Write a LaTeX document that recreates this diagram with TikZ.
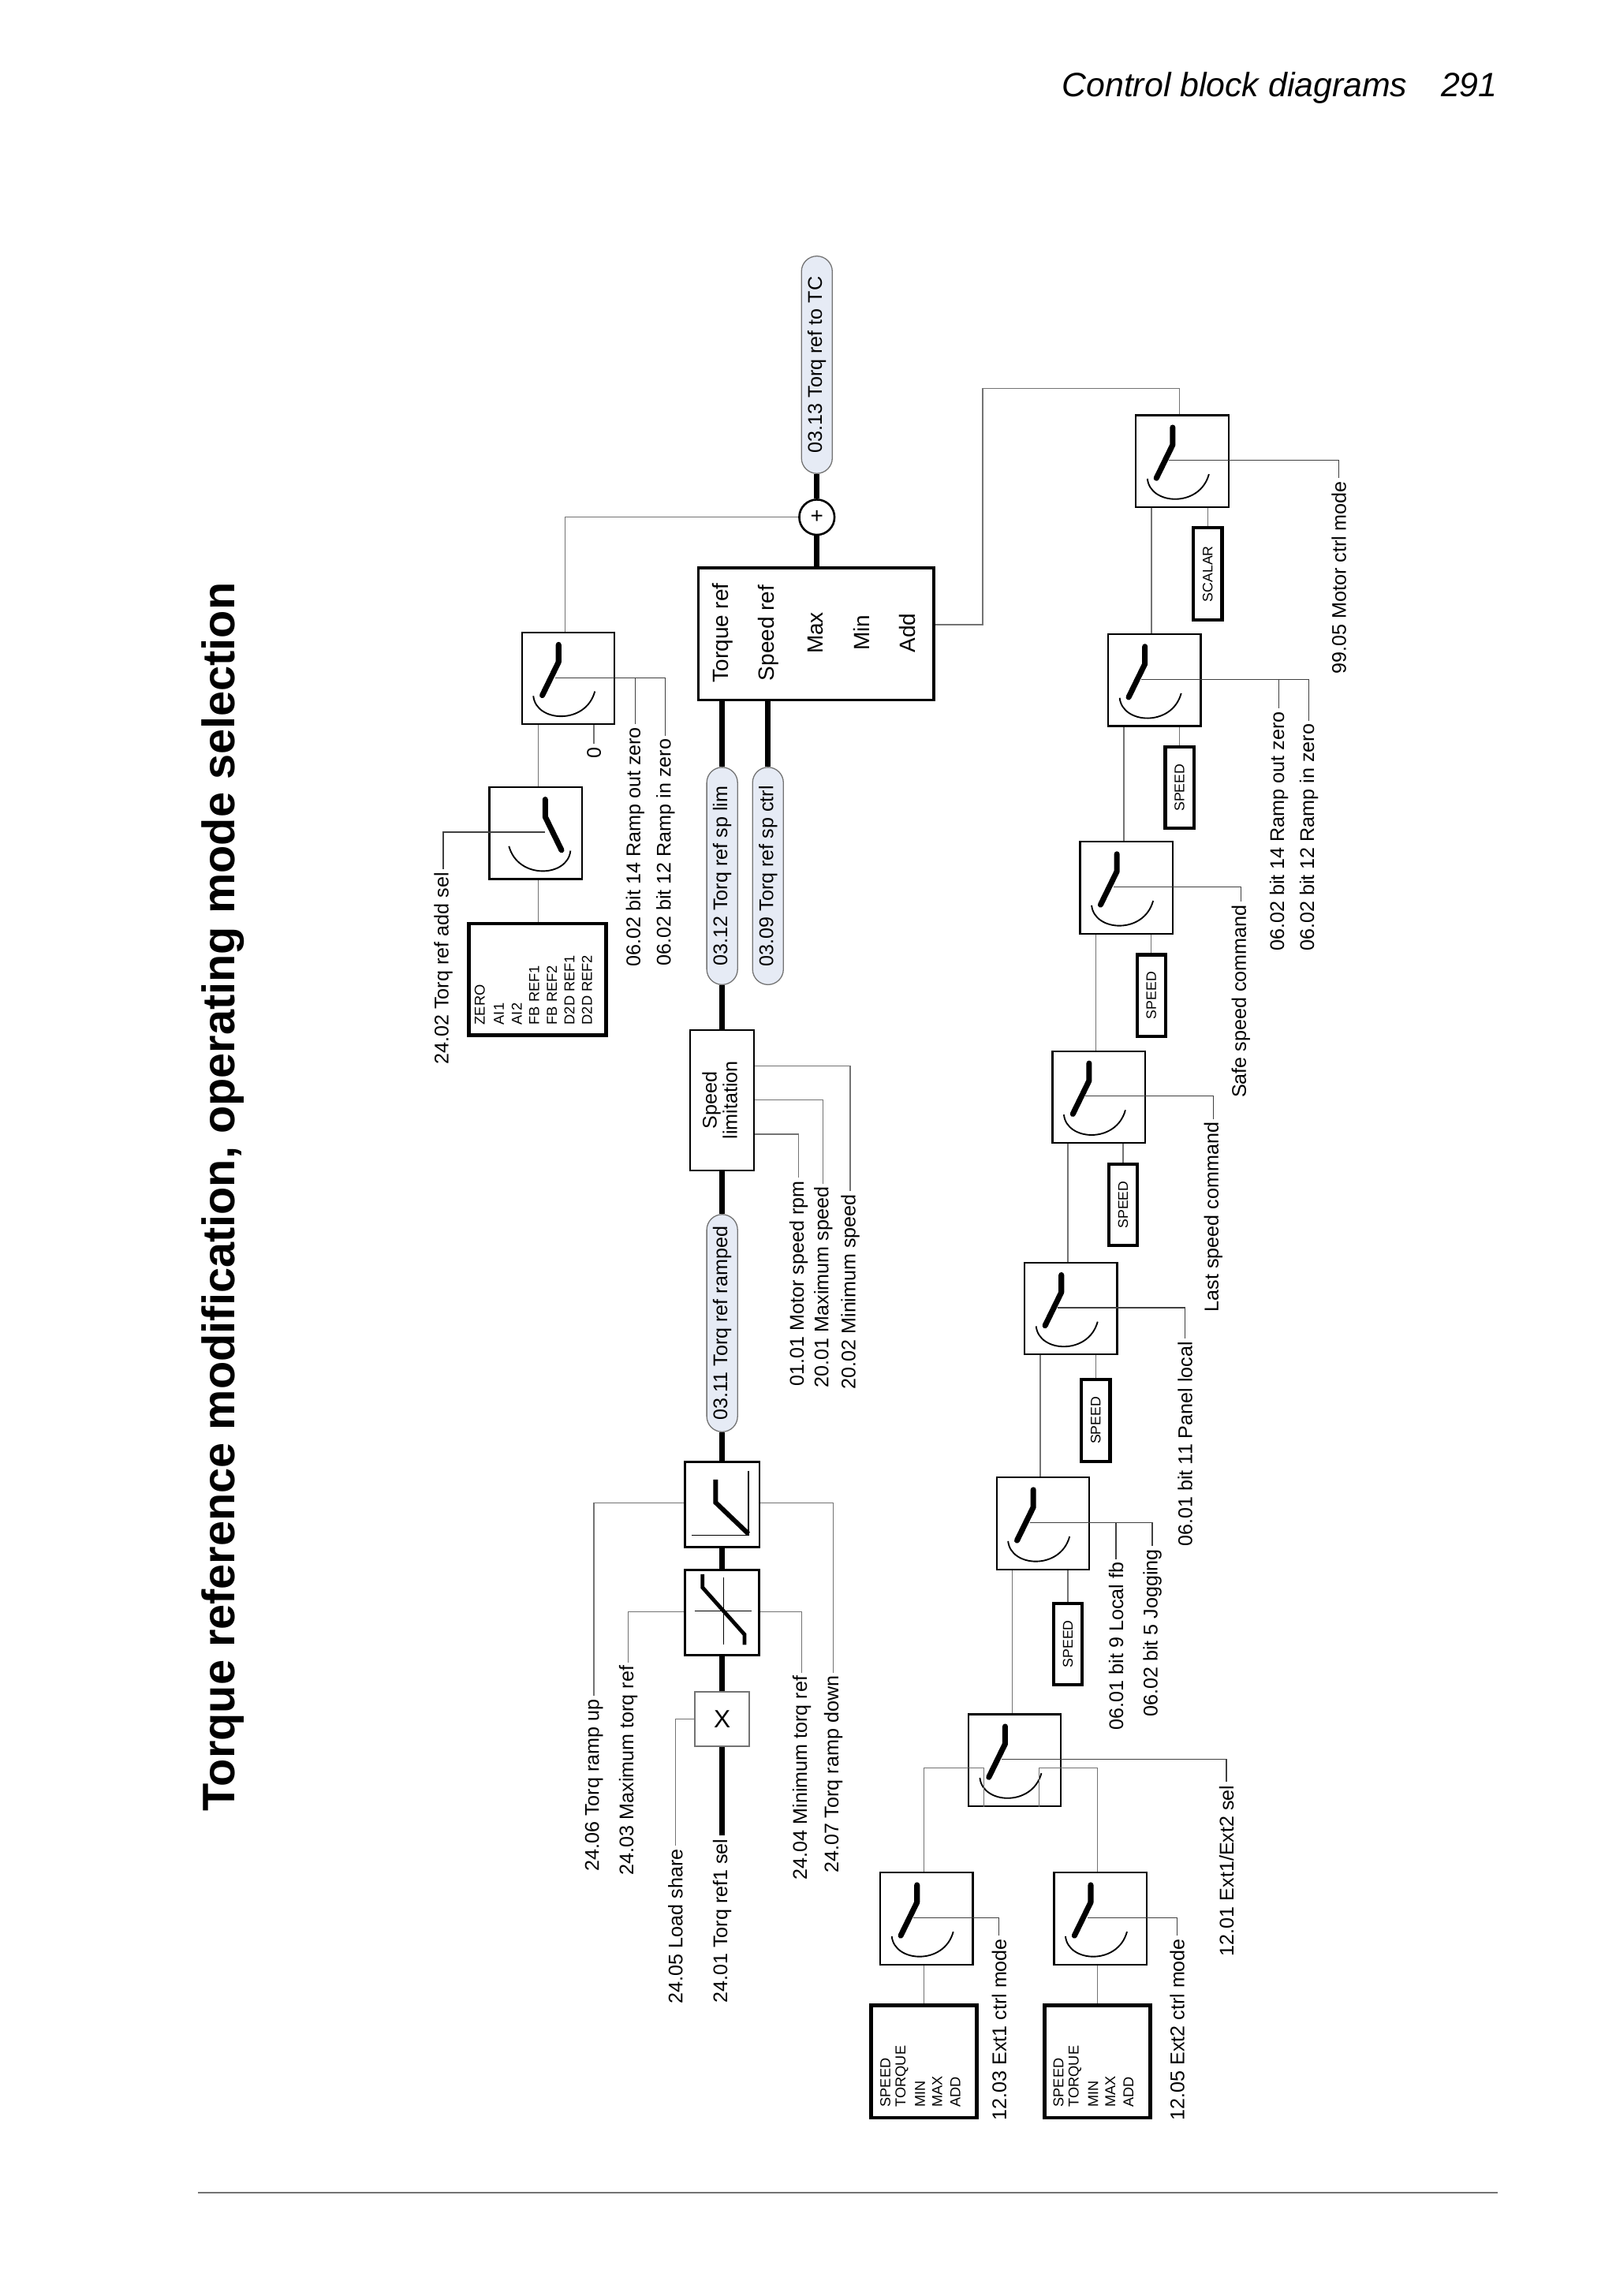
\documentclass[tikz,border=0pt]{standalone}
\usepackage{fontspec}
\usepackage{graphicx}
\setmainfont{Liberation Sans}
\usetikzlibrary{calc}
\definecolor{cgray}{RGB}{115,115,115}
\definecolor{ovfill}{RGB}{230,235,245}
\tikzset{
 swbox/.style={draw,line width=1.2pt,minimum width=63pt,minimum height=62.5pt,inner sep=0},
 lever/.style={line width=3.8pt,line cap=round,line join=round},
 arcl/.style={line width=1pt},
 conn/.style={draw=cgray,line width=0.7pt},
 ctl/.style={draw=black!75,line width=0.7pt},
 sig/.style={line width=3.6pt},
 lbl/.style={font=\fontsize{13.5}{16}\selectfont,rotate=90,anchor=east,inner sep=2pt},
 oval/.style={draw=cgray,line width=0.7pt,fill=ovfill,rounded corners=10.5pt,minimum width=21pt,minimum height=148pt,inner sep=0,font=\fontsize{13.5}{16}\selectfont},
 spbox/.style={draw,line width=2.2pt,minimum width=19.5pt,minimum height=55.5pt,inner sep=0,font=\fontsize{9.5}{11}\selectfont},
 pbox/.style={draw,line width=2.5pt,inner sep=0},
 small/.style={font=\fontsize{9.8}{11}\selectfont,rotate=90,anchor=west,inner sep=0},
 blk/.style={draw,line width=1.3pt,inner sep=0}
}
\newcommand\swsym[3][1]{%
 \node[swbox] (#2) at (#3) {};
 \begin{scope}[shift={(#3)},xscale=#1]
  \draw[lever] (-6.5,-22.9) -- (-6.5,-11.1) -- (-17.6,11.6);
  \draw[arcl] (-23.7,12) .. controls (-22,30) and (12,32) .. (18.2,8.9);
 \end{scope}}
\begin{document}
\begin{tikzpicture}[x=1pt,y=-1pt]
\useasboundingbox (0,0) rectangle (1100,1563.5);
% header, title, rule
\node[anchor=east,inner sep=0,font=\fontsize{23}{27}\selectfont\itshape] (hdr) at (1020,60) {Control block diagrams\hspace{23pt}291};
\node[rotate=90,inner sep=0,font=\fontsize{31}{36}\selectfont\bfseries] (title) at (152,815) {Torque reference modification, operating mode selection};
\coordinate (r1) at (135,1493); \coordinate (r2) at (1020,1493);
\draw[draw=cgray,line width=0.8pt] (r1) -- (r2);

% ===== main chain =====
\node[draw=cgray,line width=0.8pt,minimum width=37pt,minimum height=37pt,inner sep=0,font=\fontsize{17}{20}\selectfont] (xb) at (491.8,1170.5) {X};
\node[blk,minimum width=50.5pt,minimum height=58pt] (lim) at (491.8,1098) {};
\begin{scope}[shift={(491.8,1098)}]
 \draw[line width=0.8pt] (-18.8,-1) -- (20.2,-1) (0.9,-24) -- (0.9,22);
 \draw[line width=2.6pt] (-13.4,-26) -- (-13.4,-17) -- (15.2,15) -- (15.2,22);
\end{scope}
\node[blk,minimum width=50.8pt,minimum height=58pt] (ramp) at (491.8,1024.5) {};
\begin{scope}[shift={(491.8,1024.5)}]
 \draw[line width=0.8pt] (17.9,-23) -- (17.9,21) -- (-20.6,21);
 \draw[line width=3.2pt] (-4.5,-17) -- (-4.5,-1.4) -- (17.9,20);
\end{scope}
\node[oval] (o1) at (491.8,901) {\rotatebox{90}{03.11 Torq ref ramped}};
\node[blk,line width=1.1pt,minimum width=43.4pt,minimum height=95.7pt,font=\fontsize{13.5}{16}\selectfont] (sl) at (491.8,749.2) {\rotatebox{90}{\begin{tabular}{@{}c@{}}Speed\\[-2pt]limitation\end{tabular}}};
\node[oval] (o2) at (491.8,596.5) {\rotatebox{90}{03.12 Torq ref sp lim}};
\node[oval] (o3) at (523,596.5) {\rotatebox{90}{03.09 Torq ref sp ctrl}};
\node[blk,line width=1.8pt,minimum width=160.2pt,minimum height=89.9pt] (multi) at (555.8,431.7) {};
\foreach \xx/\tt/\nn in {492/Torque ref/ma,523.2/Speed ref/mb,555.6/Max/mc,586.8/Min/md,618/Add/me}
 \node[rotate=90,inner sep=0,font=\fontsize{15}{18}\selectfont] (\nn) at (\xx,431) {\tt};
\node[draw,circle,line width=1.4pt,minimum size=24pt,inner sep=0,font=\fontsize{15}{18}\selectfont] (plus) at (556.3,352.2) {+};
\node[oval] (o4) at (556.3,248.4) {\rotatebox{90}{03.13 Torq ref to TC}};

\node[lbl] (l2401) at (491.8,1250) {24.01 Torq ref1 sel};
\node[lbl] (l2405) at (460,1257) {24.05 Load share};
\node[lbl] (l2406) at (404.5,1155) {24.06 Torq ramp up};
\node[lbl] (l2403) at (427.8,1132) {24.03 Maximum torq ref};
\node[lbl] (l2404) at (546,1139) {24.04 Minimum torq ref};
\node[lbl] (l2407) at (567.5,1139) {24.07 Torq ramp down};
\node[lbl] (l0101) at (543.9,802) {01.01 Motor speed rpm};
\node[lbl] (l2001) at (560.6,806) {20.01 Maximum speed};
\node[lbl] (l2002) at (579,811) {20.02 Minimum speed};

\draw[sig] (l2401.east) -- (xb.south);
\draw[sig] (xb.north) -- (lim.south);
\draw[sig] (lim.north) -- (ramp.south);
\draw[sig] (ramp.north) -- (o1.south);
\draw[sig] (o1.north) -- (sl.south);
\draw[sig] (sl.north) -- (o2.south);
\draw[sig] (o2.north) -- (o2.north |- multi.south);
\draw[sig] (o3.north) -- (o3.north |- multi.south);
\draw[sig] (plus.south |- multi.north) -- (plus.south);
\draw[sig] (plus.north) -- (o4.south);

\draw[conn] (xb.west) -| (l2405.east);
\draw[conn] ([yshift=1pt]ramp.west) -| (l2406.east);
\draw[conn] ([yshift=1pt]ramp.east) -| (l2407.east);
\draw[conn] ([yshift=0.6pt]lim.west) -| (l2403.east);
\draw[conn] ([yshift=0.6pt]lim.east) -| (l2404.east);
\draw[conn] ([yshift=23.2pt]sl.east) -| (l2002.east);
\draw[conn] ([yshift=0.1pt]sl.east) -| (l2001.east);
\draw[conn] ([yshift=-23.1pt]sl.east) -| (l0101.east);

% ===== torque add branch =====
\swsym{sAdd}{386.9,461.9}
\swsym[-1]{sSel}{364.8,567.3}
\node[pbox,minimum width=93.4pt,minimum height=76.1pt] (p0) at (366,667) {};
\foreach \xx/\tt/\nn in {326.8/ZERO/za,339.7/AI1/zb,352/AI2/zc,363.8/FB REF1/zd,375.8/FB REF2/ze,387.8/D2D REF1/zf,399.8/D2D REF2/zg}
 \node[small] (\nn) at (\xx,698) {\tt};
\node[lbl] (l2402) at (301.9,592) {24.02 Torq ref add sel};
\node[lbl] (lzero) at (404.5,506.6) {0};
\node[lbl] (lraoz) at (432.6,493) {06.02 bit 14 Ramp out zero};
\node[lbl] (lraiz) at (453.2,501) {06.02 bit 12 Ramp in zero};
\draw[conn] ([xshift=0.4pt]p0.north) -- ([xshift=0.4pt]p0.north |- sSel.south);
\draw[conn] ([xshift=1.6pt]sSel.north) -- ([xshift=1.6pt]sSel.north |- sAdd.south);
\draw[conn] ([xshift=17.6pt]sAdd.south) -- (lzero.east);
\draw[conn] ([xshift=-2.1pt]sAdd.north) |- (plus.west);
\draw[ctl] ($(sAdd)+(-8.9,-0.4)$) -| (lraoz.east);
\draw[ctl] ($(sAdd)+(40,-0.4)$) -| (lraiz.east);
\draw[ctl] ($(sSel)+(6.5,-0.7)$) -| (l2402.east);

% ===== mode selection chain =====
\swsym{sF}{805.1,314}
\swsym{sE}{786.2,463.2}
\swsym{sD}{767.1,604.5}
\swsym{sC}{748.2,747}
\swsym{sB}{729.3,891.1}
\swsym{sA}{710.2,1037.4}
\swsym{sX}{691,1198.6}
\swsym{s1}{631,1306.5}
\swsym{s2}{749.3,1306.5}
\node[spbox,minimum height=62.7pt] (bF) at (822.5,390.8) {\rotatebox{90}{SCALAR}};
\node[spbox] (bE) at (803.3,536.4) {\rotatebox{90}{SPEED}};
\node[spbox] (bD) at (784,677.9) {\rotatebox{90}{SPEED}};
\node[spbox] (bC) at (764.9,820.4) {\rotatebox{90}{SPEED}};
\node[spbox] (bB) at (746.2,967.3) {\rotatebox{90}{SPEED}};
\node[spbox] (bA) at (727.3,1119.5) {\rotatebox{90}{SPEED}};
\node[pbox,minimum width=71.9pt,minimum height=76.6pt] (p1) at (629.2,1403.8) {};
\node[pbox,minimum width=72.1pt,minimum height=76.6pt] (p2) at (747.4,1403.8) {};
\foreach \xx/\tt/\nn in {602.9/SPEED/a,614.2/TORQUE/b,626.6/MIN/c,638.3/MAX/d,650.6/ADD/e}{
 \node[small] (q1\nn) at (\xx,1435) {\tt};
 \node[small] (q2\nn) at (\xx+117.9,1435) {\tt};}

\coordinate (addc) at (669.2,264.5);
\draw[conn] ([yshift=6.4pt]multi.east) -| (addc) -| ([xshift=-1.9pt]sF.north);
\foreach \up/\dn in {sF/sE,sE/sD,sD/sC,sC/sB,sB/sA,sA/sX}
 \draw[conn] ([xshift=-20.9pt]\up.south) -- ([xshift=-20.9pt]\up.south |- \dn.north);
\foreach \sw/\bx in {sF/bF,sE/bE,sD/bD,sC/bC,sB/bB,sA/bA}
 \draw[conn] (\bx.north) -- (\bx.north |- \sw.south);
\draw[conn] ([xshift=-20.9pt]sX.south) -- ++(0,-26.5) -| ([xshift=-1.8pt]s1.north);
\draw[conn] ([xshift=16.8pt]sX.south) -- ++(0,-26.5) -| ([xshift=-1.9pt]s2.north);
\draw[conn] ([xshift=-1.8pt]s1.south) -- ([xshift=-1.8pt]s1.south |- p1.north);
\draw[conn] ([xshift=-1.9pt]s2.south) -- ([xshift=-1.9pt]s2.south |- p2.north);

\node[lbl] (lF) at (911.8,325.5) {99.05 Motor ctrl mode};
\node[lbl] (lE1) at (870.9,482.5) {06.02 bit 14 Ramp out zero};
\node[lbl] (lE2) at (891.4,490.8) {06.02 bit 12 Ramp in zero};
\node[lbl] (lD) at (845.1,614) {Safe speed command};
\node[lbl] (lC) at (826.2,762) {Last speed command};
\node[lbl] (lB) at (807,911.4) {06.01 bit 11 Panel local};
\node[lbl] (lA1) at (760,1061.7) {06.01 bit 9 Local fb};
\node[lbl] (lA2) at (784.7,1052.8) {06.02 bit 5 Jogging};
\node[lbl] (lX) at (835.2,1213.5) {12.01 Ext1/Ext2 sel};
\node[lbl] (l1) at (680.4,1318) {12.03 Ext1 ctrl mode};
\node[lbl] (l2) at (801.7,1318) {12.05 Ext2 ctrl mode};
\foreach \sw/\lb in {sF/lF,sE/lE1,sD/lD,sC/lC,sB/lB,sA/lA1,sX/lX,s1/l1,s2/l2}
 \draw[ctl] ($(\sw)+(-8.9,-0.6)$) -| (\lb.east);
\draw[ctl] ($(sE)+(40,-0.6)$) -| (lE2.east);
\draw[ctl] ($(sA)+(40,-0.6)$) -| (lA2.east);
\end{tikzpicture}
\end{document}
